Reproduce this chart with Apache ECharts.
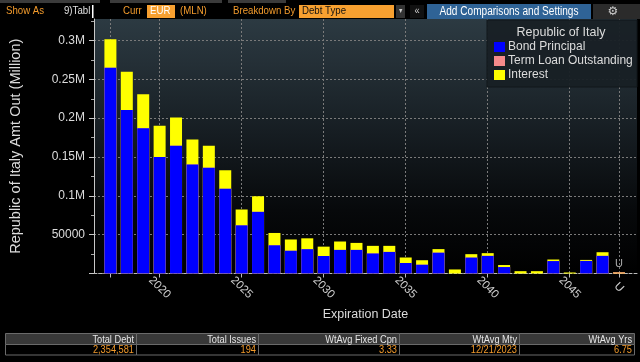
<!DOCTYPE html>
<html><head><meta charset="utf-8">
<script src="https://cdn.jsdelivr.net/npm/echarts@6/dist/echarts.min.js"></script>
<style>html,body{margin:0;padding:0;background:#000;}#c{width:640px;height:362px;}</style>
</head><body><div id="c"></div>
<script>
// ---- data ----
const categories = ['2017','2018','2019','2020','2021','2022','2023','2024','2025','2026',
  '2027','2028','2029','2030','2031','2032','2033','2034','2035','2036','2037','2038',
  '2039','2040','2041','2042','2043','2044','2045','2046','2047','U'];
const bondPrincipal = [265000,210400,186900,149900,164400,140500,136100,109000,62000,79400,
  36300,29300,31300,22500,30400,30400,25800,27800,13500,11300,26800,0,
  20500,22700,8300,0,0,16000,0,16200,22700,0];
const termLoan = [0,0,0,0,0,0,0,0,0,0,0,0,0,0,0,0,0,0,0,0,0,0,0,0,0,0,0,0,0,0,0,1500];
const interest = [36500,49400,43800,40300,36600,32200,28300,24100,20500,20000,
  15900,14500,14000,12100,10800,9000,9800,7800,7100,5800,4600,5200,
  4400,3500,2600,3000,3000,2000,1300,1300,4700,0];
const seriesNames = ['Bond Principal','Term Loan Outstanding','Interest'];
const yTickValues = [0,50000,100000,150000,200000,250000,300000];
const xTickLabels = ['2020','2025','2030','2035','2040','2045','U'];
const summaryHeaders = ['Total Debt','Total Issues','WtAvg Fixed Cpn','WtAvg Mty','WtAvg Yrs'];
const summaryValues = ['2,354,581','194','3.33','12/21/2023','6.75'];

// category -> position on the value axis (U sits one slot after the last year)
const xPos = categories.map((c, i) => c === 'U' ? +categories[i - 1] + 1 : +c);
const labelPos = xTickLabels.map(l => xPos[categories.indexOf(l)]);
const tickPos = [xPos[0]].concat(labelPos);

// stacked tops (value axis on x, so the stack is built here and bars overlap)
const topBond = bondPrincipal.slice();
const topTerm = bondPrincipal.map((v, i) => v + termLoan[i]);
const topInterest = topTerm.map((v, i) => v + interest[i]);

const SANS = "'Liberation Sans',Arial,sans-serif";
const ORANGE = '#f39b2c';
const SX = 0.84;

const chart = echarts.init(document.getElementById('c'), null, {renderer: 'canvas'});

function pts(arr) { return arr.map((v, i) => [xPos[i], v]); }
const termData = topTerm.map((v, i) => categories[i] === 'U'
  ? {value: [xPos[i], v], label: {show: true, position: 'top', formatter: 'U', color: '#aaa', fontSize: 11, distance: 3, fontFamily: SANS}}
  : [xPos[i], v]);

function txt(x, y, text, fill, size, align, extra) {
  return Object.assign({type: 'text', x: x, y: y, scaleX: SX, z: 20,
    style: {text: text, fill: fill, font: size + 'px ' + SANS, textAlign: align || 'left', textVerticalAlign: 'middle'}}, extra || {});
}
function box(x, y, w, h, fill, stroke) {
  return {type: 'rect', z: 19, shape: {x: x, y: y, width: w, height: h}, style: stroke ? {fill: fill, stroke: stroke, lineWidth: 1} : {fill: fill}};
}

// summary table
const colEdges = [5, 136, 258, 399, 519, 634];
const table = [];
for (let i = 0; i < summaryHeaders.length; i++) {
  const x0 = colEdges[i], x1 = colEdges[i + 1];
  table.push(box(x0 + 0.5, 333.5, x1 - x0, 11, '#383838', '#6a6a6a'));
  table.push(box(x0 + 0.5, 344.5, x1 - x0, 10.5, '#000', '#6a6a6a'));
  table.push(txt(x1 - 2, 339.5, summaryHeaders[i], '#e6e6e6', 11, 'right'));
  table.push(txt(x1 - 2, 350, summaryValues[i], ORANGE, 11, 'right'));
}

const toolbar = [
  box(0, 0, 100, 3, '#3b3b3b'), box(110, 0, 112, 3, '#3b3b3b'), box(228, 0, 58, 3, '#3b3b3b'),
  txt(6, 11, 'Show As', ORANGE, 11.5),
  txt(64, 11, '9)Tabl', '#e0e0e0', 11.5),
  box(92, 5, 1.5, 13, '#fff'),
  txt(123, 11, 'Curr', ORANGE, 11.5),
  box(147, 5, 28, 13, '#f7a030'),
  txt(150, 11, 'EUR', '#fff', 11.5),
  txt(180, 11, '(MLN)', ORANGE, 11.5),
  txt(233, 11, 'Breakdown By', ORANGE, 11.5),
  box(299, 5, 95, 13, '#f7a030'),
  txt(302, 11, 'Debt Type', '#111', 11.5),
  box(396, 5, 9, 13, '#333'),
  txt(400.5, 11, '▾', '#ccc', 8, 'center'),
  box(410, 5, 14, 13, '#111'),
  txt(417, 11, '«', '#ccc', 11, 'center'),
  box(427, 4, 164, 15, '#2f6396'),
  txt(509, 11.5, 'Add Comparisons and Settings', '#fff', 12, 'center'),
  box(593, 4, 47, 15, '#2b2b2b'),
  {type: 'text', z: 20, x: 613, y: 11.5, style: {text: '⚙', fill: '#ccc', font: '12px DejaVu Sans', textAlign: 'center', textVerticalAlign: 'middle'}}
];

const legendBox = [
  {type: 'rect', z: 3, shape: {x: 487, y: 20, width: 150, height: 67}, style: {fill: 'rgba(24,32,37,0.95)', stroke: '#10161a', lineWidth: 1}},
  {type: 'text', z: 10, x: 561, y: 33, style: {text: 'Republic of Italy', fill: '#dcdcdc', font: '12.5px ' + SANS, textAlign: 'center', textVerticalAlign: 'middle'}}
];

const gridBg = new echarts.graphic.LinearGradient(0, 0, 0, 1, [
  {offset: 0, color: '#2c3a42'}, {offset: 0.18, color: '#242f36'},
  {offset: 0.45, color: '#161d22'}, {offset: 0.75, color: '#07090b'}, {offset: 1, color: '#000'}
]);

chart.setOption({
  backgroundColor: '#000',
  animation: false,
  textStyle: {fontFamily: SANS},
  grid: {left: 93, right: 3, top: 19, bottom: 88.5, show: true, backgroundColor: gridBg, borderWidth: 0, containLabel: false},
  legend: {
    data: seriesNames.map(n => ({name: n, icon: 'rect'})),
    orient: 'vertical', left: 494, top: 41, itemWidth: 11, itemHeight: 10, itemGap: 2, padding: 0,
    textStyle: {color: '#dcdcdc', fontSize: 12, lineHeight: 12, fontFamily: SANS, padding: [0, 0, 0, -2]},
    z: 10
  },
  xAxis: {
    type: 'value', min: 2016, max: 2049.1,
    name: 'Expiration Date', nameLocation: 'middle', nameGap: 33,
    nameTextStyle: {color: '#dcdcdc', fontSize: 12.5, fontFamily: SANS},
    axisLine: {show: true, lineStyle: {color: '#bbb', type: [3, 2], width: 1}},
    axisTick: {show: true, customValues: tickPos, length: 4, lineStyle: {color: '#bbb'}},
    axisLabel: {
      customValues: labelPos, rotate: -45, align: 'center', verticalAlign: 'middle', margin: 14,
      color: '#cfcfcf', fontSize: 11.5, fontFamily: SANS,
      formatter: v => categories[xPos.indexOf(v)]
    },
    splitLine: {show: true, lineStyle: {color: '#7a7a7a', type: [2, 2], width: 1}}
  },
  yAxis: {
    type: 'value', min: 0, max: 327700, interval: 50000,
    name: 'Republic of Italy Amt Out (Million)', nameLocation: 'middle', nameGap: 71, nameRotate: 90,
    nameTextStyle: {color: '#dcdcdc', fontSize: 14.5, fontFamily: SANS},
    axisLine: {show: true, lineStyle: {color: '#c8c8c8', width: 1}},
    axisTick: {show: true, customValues: yTickValues, length: 5, lineStyle: {color: '#c8c8c8'}},
    minorTick: {show: true, splitNumber: 2, length: 3, lineStyle: {color: '#aaa'}},
    axisLabel: {
      customValues: yTickValues, margin: 9, color: '#dcdcdc', fontSize: 12, fontFamily: SANS,
      formatter: v => v === 0 ? '' : (v >= 100000 ? (v / 1e6) + 'M' : String(v))
    },
    splitLine: {show: true, lineStyle: {color: '#7a7a7a', type: [2, 2], width: 1}}
  },
  series: [
    {name: seriesNames[2], type: 'bar', barWidth: 12, barGap: '-100%', z: 2, data: pts(topInterest), itemStyle: {color: '#ffff00'}},
    {name: seriesNames[1], type: 'bar', barWidth: 12, barGap: '-100%', z: 3, data: termData, itemStyle: {color: '#f58a8a'}},
    {name: seriesNames[0], type: 'bar', barWidth: 12, barGap: '-100%', z: 4, data: pts(topBond), itemStyle: {color: '#0000ff'}}
  ],
  graphic: [].concat(toolbar, legendBox, table)
});
</script></body></html>
